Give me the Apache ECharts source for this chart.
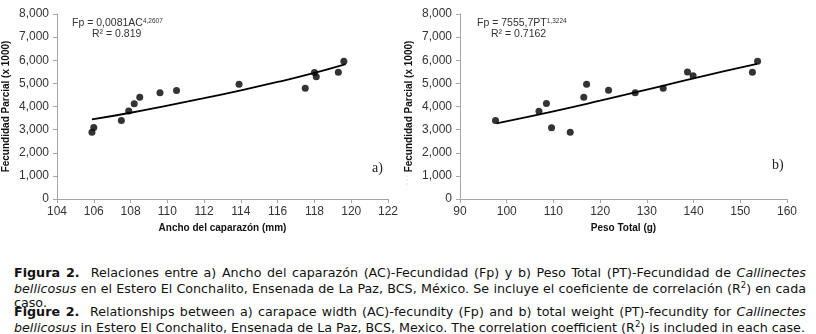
<!DOCTYPE html>
<html>
<head>
<meta charset="utf-8">
<script src="https://cdn.jsdelivr.net/npm/echarts@6/dist/echarts.min.js"></script>
<style>
  html, body { margin: 0; padding: 0; background: #fff; }
  #wrap { position: relative; width: 816px; height: 334px; overflow: hidden; }
  #chart { position: absolute; left: 0; top: 0; width: 816px; height: 250px; }
  .cap { position: absolute; left: 14px; width: 792px; font-family: "DejaVu Sans", sans-serif;
         font-size: 12.7px; line-height: 16px; color: #111; white-space: nowrap; }
  .just { text-align: justify; text-align-last: justify; }
  .cap sup { font-size: 8.5px; line-height: 0; }
</style>
</head>
<body>
<div id="wrap">
  <div id="chart"></div>
  <div class="cap just" style="top:265px">
    <b>Figura 2.</b>&nbsp; Relaciones entre a) Ancho del caparazón (AC)-Fecundidad (Fp) y b) Peso Total (PT)-Fecundidad de <i>Callinectes</i>
  </div>
  <div class="cap just" style="top:281px">
    <i>bellicosus</i> en el Estero El Conchalito, Ensenada de La Paz, BCS, México. Se incluye el coeficiente de correlación (R<sup>2</sup>) en cada
  </div>
  <div class="cap" style="top:295px">caso.</div>
  <div class="cap just" style="top:304px">
    <b>Figure 2.</b>&nbsp; Relationships between a) carapace width (AC)-fecundity (Fp) and b) total weight (PT)-fecundity for <i>Callinectes</i>
  </div>
  <div class="cap" style="top:320px">
    <i>bellicosus</i> in Estero El Conchalito, Ensenada de La Paz, BCS, Mexico. The correlation coefficient (R<sup>2</sup>) is included in each case.
  </div>
</div>
<script>
// a) ancho del caparazón (mm) vs fecundidad parcial (x1000)
var acWidth = [105.9, 106.0, 107.5, 107.9, 108.2, 108.5, 109.6, 110.5, 113.9, 117.5, 118.0, 118.1, 119.3, 119.6];
var acFecund = [2890, 3090, 3390, 3810, 4120, 4400, 4590, 4690, 4960, 4790, 5470, 5290, 5480, 5960];
// línea de tendencia potencial
var acTrendX = [105.9, 108, 110, 112, 114, 116, 118, 119.7];
var acTrendY = [3440, 3730, 4040, 4360, 4700, 5060, 5450, 5830];

// b) peso total (g) vs fecundidad parcial
var ptWeight = [97.6, 106.9, 108.5, 109.6, 113.6, 116.5, 117.1, 121.8, 127.5, 133.5, 138.7, 139.9, 152.6, 153.7];
var ptFecund = [3390, 3800, 4130, 3080, 2890, 4400, 4960, 4700, 4590, 4790, 5490, 5330, 5480, 5960];
var ptTrendX = [97.8, 110, 120, 130, 140, 153.6];
var ptTrendY = [3270, 3790, 4250, 4730, 5220, 5840];

var yTicks = [0, 1000, 2000, 3000, 4000, 5000, 6000, 7000, 8000];

var sans = '"Liberation Sans", Arial, sans-serif';
var axisGrey = "#a6a6a6";

function pairs(xs, ys) {
  return xs.map(function (x, i) { return [x, ys[i]]; });
}

function xAxisOf(idx, min, max, step, name) {
  return {
    type: "value", gridIndex: idx, min: min, max: max, interval: step,
    name: name, nameLocation: "middle", nameGap: 21,
    nameTextStyle: { fontFamily: sans, fontWeight: "bold", fontSize: 10, color: "#111" },
    axisLine: { show: true, lineStyle: { color: axisGrey } },
    axisTick: { show: true, length: 4, lineStyle: { color: axisGrey } },
    axisLabel: { fontFamily: sans, fontSize: 12, color: "#333", margin: 7 },
    splitLine: { show: false },
  };
}

function yAxisOf(idx) {
  return {
    type: "value", gridIndex: idx, min: yTicks[0], max: yTicks[yTicks.length - 1], interval: 1000,
    name: "Fecundidad Parcial (x 1000)", nameLocation: "middle", nameGap: 46,
    nameTextStyle: { fontFamily: sans, fontWeight: "bold", fontSize: 10, color: "#111" },
    axisLine: { show: true, lineStyle: { color: axisGrey } },
    axisTick: { show: true, length: 4, lineStyle: { color: axisGrey } },
    axisLabel: {
      fontFamily: sans, fontSize: 12, color: "#333", margin: 8,
      formatter: function (v) { return v.toLocaleString("en-US"); },
    },
    splitLine: { show: false },
  };
}

function eqText(x, y, main, sup) {
  return {
    type: "text", x: x, y: y,
    style: {
      text: "{b|" + main + "}{s|" + sup + "}",
      rich: {
        b: { fontFamily: sans, fontSize: 10.5, fill: "#333", lineHeight: 11 },
        s: { fontFamily: sans, fontSize: 6.5, fill: "#333", verticalAlign: "top", lineHeight: 11 },
      },
    },
  };
}

var myChart = echarts.init(document.getElementById("chart"));

var option = {
  animation: false,
  grid: [
    { left: 57, top: 14, width: 331, height: 185 },
    { left: 460, top: 14, width: 327, height: 185 },
  ],
  xAxis: [
    xAxisOf(0, 104, 122, 2, "Ancho del caparazón (mm)"),
    xAxisOf(1, 90, 160, 10, "Peso Total (g)"),
  ],
  yAxis: [yAxisOf(0), yAxisOf(1)],
  series: [
    {
      type: "line", xAxisIndex: 0, yAxisIndex: 0, data: pairs(acTrendX, acTrendY),
      symbol: "none", smooth: true, lineStyle: { color: "#000", width: 1.8 },
    },
    {
      type: "scatter", xAxisIndex: 0, yAxisIndex: 0, data: pairs(acWidth, acFecund),
      symbolSize: 7, itemStyle: { color: "#000" },
    },
    {
      type: "line", xAxisIndex: 1, yAxisIndex: 1, data: pairs(ptTrendX, ptTrendY),
      symbol: "none", smooth: true, lineStyle: { color: "#000", width: 1.8 },
    },
    {
      type: "scatter", xAxisIndex: 1, yAxisIndex: 1, data: pairs(ptWeight, ptFecund),
      symbolSize: 7, itemStyle: { color: "#000" },
    },
  ],
  graphic: [
    eqText(72, 18, "Fp = 0,0081AC", "4,2607"),
    { type: "text", x: 92, y: 29, style: { text: "R² = 0.819", fontFamily: sans, fontSize: 10.5, fill: "#333" } },
    eqText(477, 18, "Fp = 7555,7PT", "1,3224"),
    { type: "text", x: 491, y: 29, style: { text: "R² = 0.7162", fontFamily: sans, fontSize: 10.5, fill: "#333" } },
    { type: "text", left: 372, top: 161, style: { text: "a)", fontFamily: '"Liberation Serif", serif', fontSize: 14, fill: "#222" } },
    { type: "text", left: 772, top: 158, style: { text: "b)", fontFamily: '"Liberation Serif", serif', fontSize: 14, fill: "#222" } },
    // borde tenue del recuadro del gráfico a)
    { type: "line", shape: { x1: 407, y1: 47, x2: 407, y2: 187 }, style: { stroke: "#e4e4e4", lineWidth: 1, lineDash: [2, 2] } },
  ],
};

myChart.setOption(option);
window.addEventListener("resize", myChart.resize);
</script>
</body>
</html>
